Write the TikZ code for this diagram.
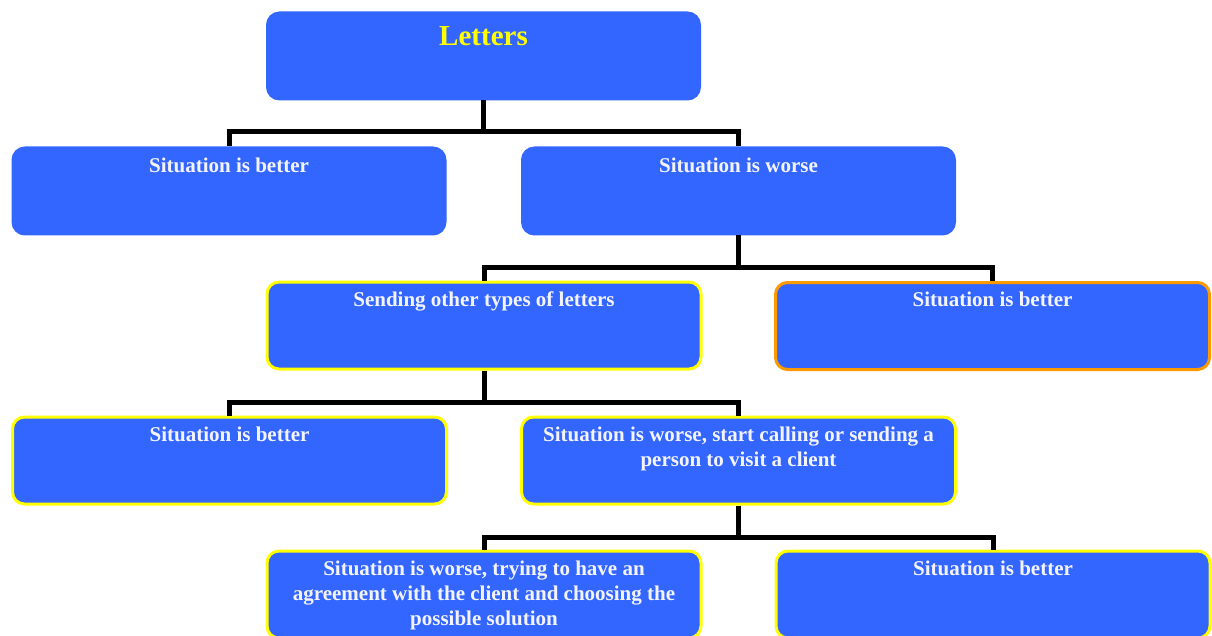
\documentclass[tikz,border=0pt]{standalone}
\usepackage{fontspec}
\setmainfont{Liberation Serif}
\usetikzlibrary{calc}
\definecolor{boxblue}{HTML}{3366FF}
\definecolor{bordyellow}{HTML}{FFFF00}
\definecolor{bordorange}{HTML}{FF9900}
\definecolor{txtwhite}{HTML}{F4F4FF}
\tikzset{
  box/.style={rectangle, rounded corners=12pt, fill=boxblue, draw=boxblue, line width=3pt,
    minimum width=432pt, minimum height=86pt, inner sep=0pt},
  ybox/.style={box, draw=bordyellow, minimum width=434pt, minimum height=87pt},
  obox/.style={box, draw=bordorange, minimum width=434pt, minimum height=87pt},
  lbl/.style={inner sep=0pt, text=txtwhite, align=center, font=\fontsize{21}{25}\selectfont\bfseries},
  conn/.style={draw=black, line width=5pt, line join=miter, line cap=butt},
}
\begin{document}
\begin{tikzpicture}[x=1pt,y=-1pt]
\useasboundingbox (0,0) rectangle (1212,636);
% boxes
\node[box]  (n1) at (483.5,56) {};
\node[box]  (n2) at (229,191) {};
\node[box]  (n3) at (738.5,191) {};
\node[ybox] (n4) at (484,325.5) {};
\node[obox] (n5) at (992.5,326) {};
\node[ybox] (n6) at (229.5,460.5) {};
\node[ybox] (n7) at (738.5,460.5) {};
\node[ybox] (n8) at (484,594.5) {};
\node[ybox] (n9) at (993,594.5) {};
% labels
\node[lbl, text=bordyellow, font=\fontsize{29}{34}\selectfont\bfseries, below=15pt] (t1) at (n1.north) {Letters};
\node[lbl, below=11pt] (t2) at (n2.north) {Situation is better};
\node[lbl, below=11pt] (t3) at (n3.north) {Situation is worse};
\node[lbl, below=11pt] (t4) at (n4.north) {Sending other types of letters};
\node[lbl, below=11pt] (t5) at (n5.north) {Situation is better};
\node[lbl, below=11pt] (t6) at (n6.north) {Situation is better};
\node[lbl, below=11pt] (t7) at (n7.north) {Situation is worse, start calling or sending a\\person to visit a client};
\node[lbl, below=11pt] (t8) at (n8.north) {Situation is worse, trying to have an\\agreement with the client and choosing the\\possible solution};
\node[lbl, below=11pt] (t9) at (n9.north) {Situation is better};
% connectors
\draw[conn] (n1.south) -- ++(0,31) -| (n2.north);
\draw[conn] (n1.south) -- ++(0,31) -| (n3.north);
\draw[conn] (n3.south) -- ++(0,32) -| (n4.north);
\draw[conn] (n3.south) -- ++(0,32) -| (n5.north);
\draw[conn] (n4.south) -- ++(0,32) -| (n6.north);
\draw[conn] (n4.south) -- ++(0,32) -| (n7.north);
\draw[conn] (n7.south) -- ++(0,32) -| (n8.north);
\draw[conn] (n7.south) -- ++(0,32) -| (n9.north);
\end{tikzpicture}
\end{document}
